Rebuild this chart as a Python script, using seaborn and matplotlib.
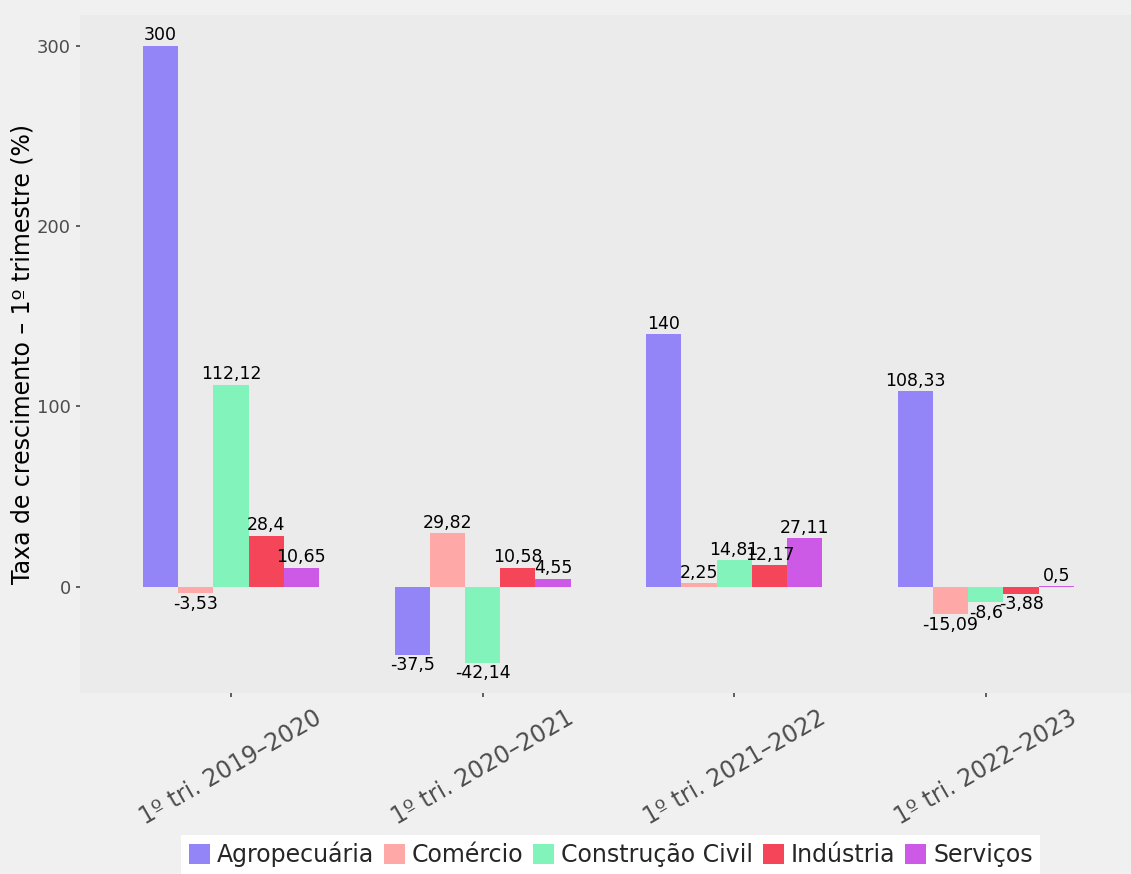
import pandas as pd
import numpy as np
import seaborn as sns
import matplotlib.pyplot as plt

# # Data

periodos = ["1º tri. 2019–2020", "1º tri. 2020–2021", "1º tri. 2021–2022", "1º tri. 2022–2023"]
setores = ["Agropecuária", "Comércio", "Construção Civil", "Indústria", "Serviços"]

agropecuaria = [300, -37.5, 140, 108.33]
comercio = [-3.53, 29.82, 2.25, -15.09]
construcao = [112.12, -42.14, 14.81, -8.6]
industria = [28.4, 10.58, 12.17, -3.88]
servicos = [10.65, 4.55, 27.11, 0.5]

cores = ["#9384f8", "#ffa8a8", "#82f4bb", "#f54659", "#cc5ae6"]

series = [agropecuaria, comercio, construcao, industria, servicos]
df = pd.DataFrame({
    "periodo": periodos * len(setores),
    "setor": np.repeat(setores, len(periodos)),
    "taxa": np.concatenate(series),
})


def fmt(v):
    s = f"{v:.2f}".rstrip("0").rstrip(".")
    return s.replace(".", ",")


# # Plot

sns.set_theme(style="white")
plt.rcParams['font.family'] = ['DejaVu Sans']

fig = plt.figure(figsize=(11.31, 8.74), dpi=100, facecolor="#f0f0f0")
ax = fig.add_axes([0.0707, 0.207, 0.93, 0.776])
ax.set_facecolor("#ebebeb")

sns.barplot(data=df, x="periodo", y="taxa", hue="setor", hue_order=setores,
            order=periodos, palette=cores, width=0.7, saturation=1,
            edgecolor="none", ax=ax)

for cont, vals in zip(ax.containers, series):
    ax.bar_label(cont, labels=[fmt(v) for v in vals], padding=1, fontsize=12.5, color="black")

ax.set_ylim(-58.8, 317)
ax.set_xlim(-0.6, 3.58)
ax.set_yticks([0, 100, 200, 300])
ax.set_ylabel("Taxa de crescimento – 1º trimestre (%)", fontsize=17, color="black", labelpad=2)
ax.set_xlabel("")
ax.tick_params(axis="y", labelsize=13, labelcolor="#4d4d4d", length=3, color="#4d4d4d", left=True)
ax.tick_params(axis="x", labelsize=17, labelcolor="#4d4d4d", length=3, color="#4d4d4d", bottom=True, pad=6)
for lab in ax.get_xticklabels():
    lab.set_rotation(30)
    lab.set_ha("center")
sns.despine(ax=ax, left=True, bottom=True)

h, l = ax.get_legend_handles_labels()
ax.legend_.remove()
fig.legend(h, l, loc="lower center", bbox_to_anchor=(0.54, -0.014), ncol=5, frameon=True,
           facecolor="white", edgecolor="none", framealpha=1, fontsize=17,
           handlelength=0.9, handleheight=0.9, handletextpad=0.3, columnspacing=0.4,
           borderpad=0.3, fancybox=False)

fig.savefig("out.png", dpi=100, facecolor=fig.get_facecolor())
